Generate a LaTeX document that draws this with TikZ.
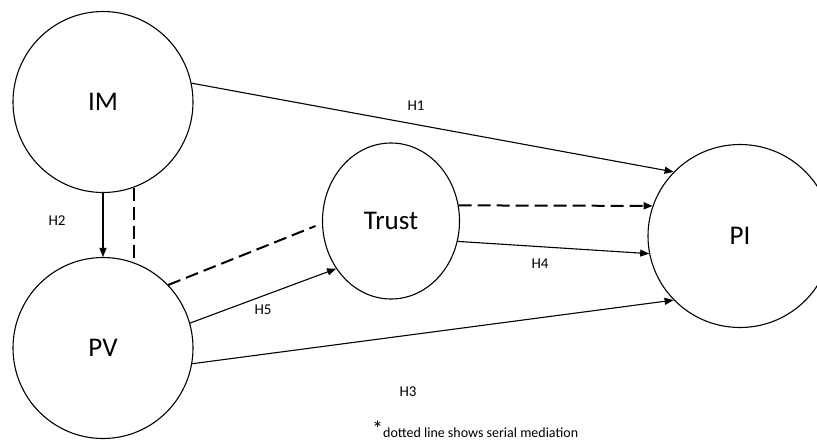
\documentclass[tikz,border=0pt]{standalone}
\usepackage{fontspec}
\setmainfont{Carlito}
\usetikzlibrary{shapes.geometric,arrows.meta}

\begin{document}
\begin{tikzpicture}[x=1pt,y=-1pt]
  \tikzset{every node/.style={inner sep=0pt}}
  \tikzstyle{var}=[draw,ellipse,line width=1.1pt,font=\fontsize{27}{30}\selectfont]
  \tikzstyle{hyp}=[line width=1.1pt,-{Triangle[length=9pt,width=7pt]}]
  \tikzstyle{serial}=[line width=2pt,dash pattern=on 13pt off 6pt]
  \tikzstyle{lbl}=[font=\fontsize{15}{17}\selectfont]

  \useasboundingbox (0,0) rectangle (817,440);

  % constructs
  \node[var,minimum width=180pt,minimum height=181pt] (IM) at (103,102) {IM};
  \node[var,minimum width=180pt,minimum height=181pt] (PV) at (103,348) {PV};
  \node[var,minimum width=137pt,minimum height=156pt] (Trust) at (391,221) {Trust};
  \node[var,minimum width=184pt,minimum height=183pt] (PI) at (740,236) {PI};

  % direct paths
  \draw[hyp] (IM.12)   -- (PI.136);
  \draw[hyp] (IM.south) -- (PV.north);
  \draw[hyp] (PV.16)   -- (Trust.-139);
  \draw[hyp] (Trust.-17) -- (PI.191.5);
  \draw[hyp] (PV.-10.6) -- (PI.224);

  % serial mediation
  \draw[serial] (IM.-70.5) -- (PV.70.5);
  \draw[serial,shorten >=7pt] (PV.44) -- (Trust.182);
  \draw[serial,-{Triangle[length=9pt,width=7pt]}] (Trust.13) -- (PI.161.5);

  % labels
  \node[lbl] (h1) at (416,106) {H1};
  \node[lbl] (h2) at (57,221) {H2};
  \node[lbl] (h3) at (408,392) {H3};
  \node[lbl] (h4) at (540,264) {H4};
  \node[lbl] (h5) at (263,310) {H5};
  \node[anchor=base west,font=\fontsize{14}{16}\selectfont] (note) at (372,437)
    {\raisebox{1pt}{\fontsize{22}{22}\selectfont*}dotted line shows serial mediation};

\end{tikzpicture}
\end{document}
